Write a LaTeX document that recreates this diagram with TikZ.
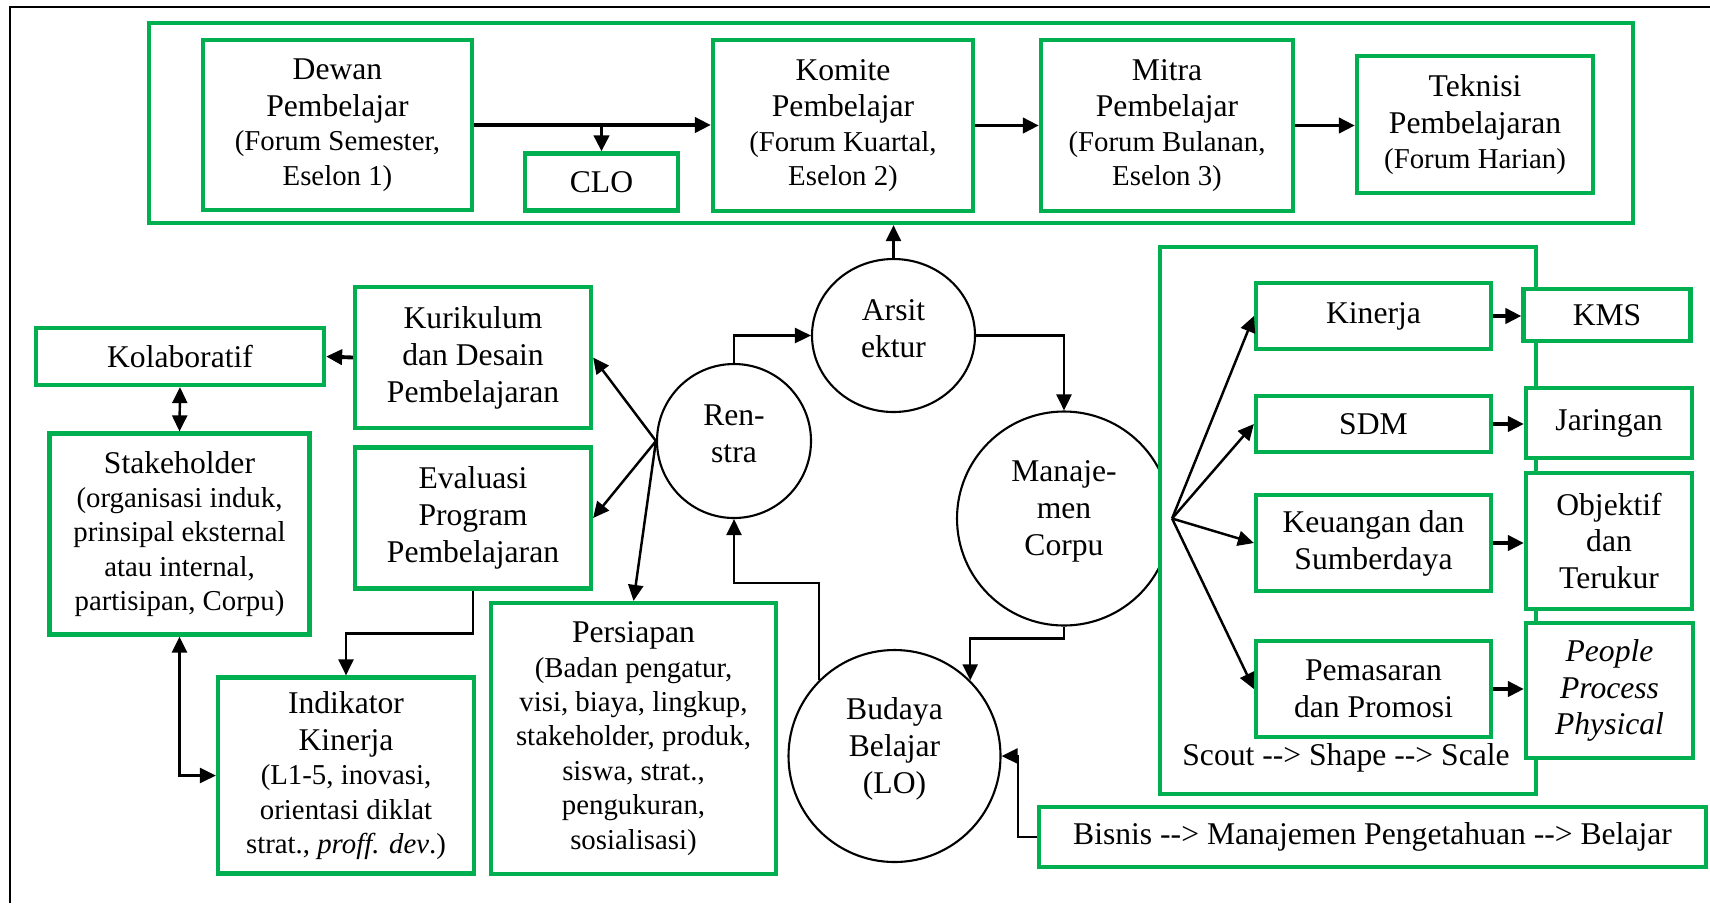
\documentclass[tikz,border=0pt]{standalone}
\usepackage{fontspec}
\setmainfont{Liberation Serif}
\usetikzlibrary{arrows.meta, shapes.geometric}
\definecolor{boxgreen}{RGB}{0,176,80}
\tikzstyle{gbox} = [draw=boxgreen, line width=1.2pt, fill=white, align=center, inner sep=0pt]
\tikzstyle{bubble} = [draw, ellipse, line width=0.6pt, inner sep=0pt]
\tikzstyle{bubtxt} = [align=center, yshift=0.07cm]
\tikzstyle{arrow} = [line width=0.7pt, -{Triangle[length=1.6mm, width=1.5mm]}]
\tikzstyle{thickarrow} = [line width=1.1pt, -{Triangle[length=1.6mm, width=1.5mm]}]
\tikzstyle{twoway} = [line width=0.7pt, {Triangle[length=1.6mm, width=1.5mm]}-{Triangle[length=1.6mm, width=1.5mm]}]
\newcommand{\subtxt}{\fontsize{8.2}{9.8}\selectfont}

\begin{document}
\begin{tikzpicture}[x=1cm, y=-1cm, font=\fontsize{9}{10.5}\selectfont]
    \useasboundingbox (0,0) rectangle (17.10,9.03);
    \draw[line width=0.6pt] (0.10,9.03) -- (0.10,0.07) -- (17.10,0.07);

    % forum row
    \node[gbox, minimum width=14.84cm, minimum height=2.00cm] (topgrp) at (8.91,1.23) {};
    \node[gbox, minimum width=2.69cm, minimum height=1.70cm] (dewan) at (3.375,1.25)
      {Dewan\\Pembelajar\\[-0.7pt]\subtxt (Forum Semester,\\[-0.7pt]\subtxt Eselon 1)};
    \node[gbox, minimum width=1.53cm, minimum height=0.57cm] (clo) at (6.015,1.82) {CLO};
    \node[gbox, minimum width=2.60cm, minimum height=1.71cm] (komite) at (8.43,1.255)
      {Komite\\Pembelajar\\[-0.7pt]\subtxt (Forum Kuartal,\\[-0.7pt]\subtxt Eselon 2)};
    \node[gbox, minimum width=2.52cm, minimum height=1.71cm] (mitra) at (11.67,1.255)
      {Mitra\\Pembelajar\\[-0.7pt]\subtxt (Forum Bulanan,\\[-0.7pt]\subtxt Eselon 3)};
    \node[gbox, minimum width=2.36cm, minimum height=1.37cm] (teknisi) at (14.75,1.245)
      {Teknisi\\Pembelajaran\\[-0.7pt]\subtxt (Forum Harian)};

    % cycle
    \node[bubble, minimum width=1.63cm, minimum height=1.53cm,
      label={[bubtxt]center:Arsit\\ektur}] (arsit) at (8.935,3.355) {};
    \node[bubble, minimum size=1.54cm,
      label={[bubtxt]center:Ren-\\stra}] (renstra) at (7.34,4.41) {};
    \node[bubble, minimum size=2.14cm,
      label={[bubtxt]center:Manaje-\\men\\Corpu}] (manajemen) at (10.64,5.185) {};
    \node[bubble, minimum size=2.12cm,
      label={[bubtxt]center:Budaya\\Belajar\\(LO)}] (budaya) at (8.945,7.56) {};

    % left side
    \node[gbox, minimum width=2.88cm, minimum height=0.57cm] (kolaboratif) at (1.80,3.565) {Kolaboratif};
    \node[gbox, minimum width=2.36cm, minimum height=1.41cm] (kurikulum) at (4.73,3.575)
      {Kurikulum\\dan Desain\\Pembelajaran};
    \node[gbox, minimum width=2.60cm, minimum height=2.01cm] (stakeholder) at (1.795,5.34)
      {Stakeholder\\[-0.7pt]\subtxt (organisasi induk,\\[-0.7pt]\subtxt prinsipal eksternal\\[-0.7pt]\subtxt atau internal,\\[-0.7pt]\subtxt partisipan, Corpu)};
    \node[gbox, minimum width=2.36cm, minimum height=1.41cm] (evaluasi) at (4.73,5.18)
      {Evaluasi\\Program\\Pembelajaran};
    \node[gbox, minimum width=2.56cm, minimum height=1.96cm] (indikator) at (3.46,7.755)
      {Indikator\\Kinerja\\[-0.7pt]\subtxt (L1-5, inovasi,\\[-0.7pt]\subtxt orientasi diklat\\[-0.7pt]\subtxt strat., \textit{proff. dev}.)};
    \node[gbox, minimum width=2.85cm, minimum height=2.71cm] (persiapan) at (6.335,7.385)
      {Persiapan\\[-0.7pt]\subtxt (Badan pengatur,\\[-0.7pt]\subtxt visi, biaya, lingkup,\\[-0.7pt]\subtxt stakeholder, produk,\\[-0.7pt]\subtxt siswa, strat.,\\[-0.7pt]\subtxt pengukuran,\\[-0.7pt]\subtxt sosialisasi)};

    % right side
    \node[gbox, minimum width=3.76cm, minimum height=5.47cm] (sbox) at (13.48,5.205) {};
    \node (scout) at (13.46,7.58) {Scout -{}-> Shape -{}-> Scale};
    \node[gbox, minimum width=2.35cm, minimum height=0.66cm] (kinerja) at (13.735,3.16) {Kinerja};
    \node[gbox, minimum width=2.35cm, minimum height=0.56cm] (sdm) at (13.735,4.24) {SDM};
    \node[gbox, minimum width=2.35cm, minimum height=0.96cm] (keuangan) at (13.735,5.43)
      {Keuangan dan\\Sumberdaya};
    \node[gbox, minimum width=2.35cm, minimum height=0.96cm] (pemasaran) at (13.735,6.89)
      {Pemasaran\\dan Promosi};
    \node[gbox, minimum width=1.67cm, minimum height=0.52cm] (kms) at (16.07,3.15) {KMS};
    \node[gbox, minimum width=1.66cm, minimum height=0.70cm] (jaringan) at (16.09,4.23) {Jaringan};
    \node[gbox, minimum width=1.66cm, minimum height=1.36cm] (objektif) at (16.09,5.41)
      {Objektif\\dan\\Terukur};
    \node[gbox, minimum width=1.67cm, minimum height=1.35cm] (people) at (16.095,6.905)
      {\textit{People}\\\textit{Process}\\\textit{Physical}};
    \node[gbox, minimum width=6.67cm, minimum height=0.60cm] (bisnis) at (13.725,8.37)
      {Bisnis -{}-> Manajemen Pengetahuan -{}-> Belajar};

    % connectors
    \draw[thickarrow] (dewan.east) -- (dewan.east -| komite.west);
    \draw[thickarrow] (dewan.east -| clo.north) -- (clo.north);
    \draw[thickarrow] (komite.east) -- (komite.east -| mitra.west);
    \draw[thickarrow] (mitra.east) -- (mitra.east -| teknisi.west);

    \draw[arrow] (arsit.north) -- (arsit.north |- topgrp.south);
    \draw[arrow] (renstra.north) |- (arsit.west);
    \draw[arrow] (arsit.east) -| (manajemen.north);
    \draw[arrow] (manajemen.south) -- ++(0,0.12) -| (budaya.45);
    \draw[arrow] (budaya.135) -- ++(0,-0.975) -| (renstra.south);
    \draw[arrow] (bisnis.west) -- ++(-0.19,0) |- (budaya.east);

    \foreach \t in {kurikulum, evaluasi}
      \draw[arrow] (renstra.west) -- (\t.east);
    \draw[arrow] (renstra.west) -- (persiapan.north);
    \draw[thickarrow] (kurikulum.west) -- (kolaboratif.east);
    \draw[twoway] (kolaboratif.south) -- (stakeholder.north);
    \draw[arrow] (evaluasi.south) -- ++(0,0.43) -| (indikator.north);
    \draw[twoway] (stakeholder.south) |- (indikator.west);

    \foreach \t in {kinerja, sdm, keuangan, pemasaran}
      \draw[arrow] (manajemen.east) -- (\t.west);
    \foreach \a/\b in {kinerja/kms, sdm/jaringan, keuangan/objektif, pemasaran/people}
      \draw[thickarrow] (\a.east) -- (\a.east -| \b.west);
  \end{tikzpicture}
\end{document}
